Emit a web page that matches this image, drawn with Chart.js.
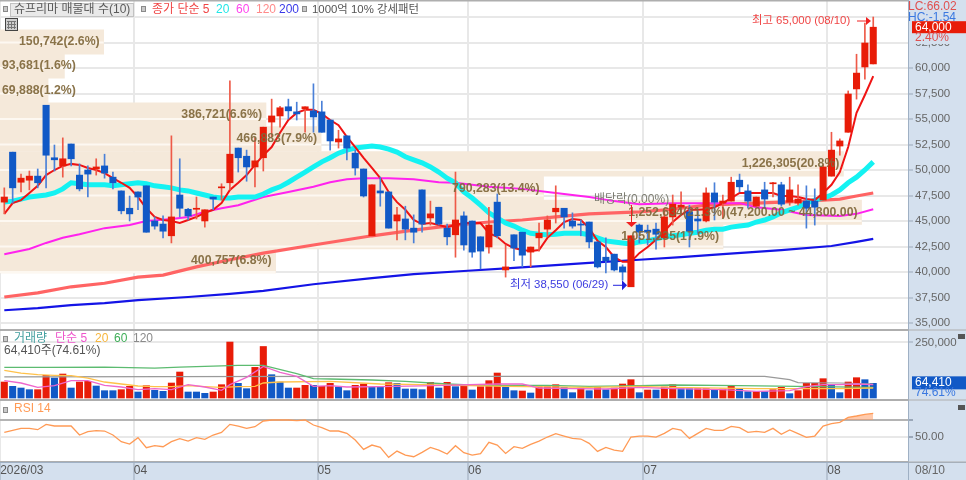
<!DOCTYPE html>
<html lang="ko"><head><meta charset="utf-8">
<style>html,body{margin:0;padding:0;background:#fff;overflow:hidden}canvas{display:block;filter:blur(.35px)}</style>
<script src="https://cdn.jsdelivr.net/npm/chart.js@4"></script>
</head><body><canvas id="c" width="966" height="480"></canvas>
<script>
const opens=[46850,51750,48800,49000,49400,56350,51200,50400,52550,49500,50000,50100,50400,49300,47950,46250,47850,48450,45000,44700,43550,47550,46150,46150,45000,47350,48250,48750,52150,51350,50300,51200,54700,55300,56200,55700,56000,55800,55700,54900,52750,53350,51650,50100,43550,47950,47850,45000,45200,44300,48050,45300,46350,44300,43650,45500,45000,43450,42450,46850,40200,43650,43900,41950,43350,44200,45900,46250,45000,44700,44900,42950,41450,41750,40500,38550,44600,44100,44200,43350,45400,46350,45900,45200,45000,47750,46750,46950,49000,47950,46450,48050,48650,48550,46850,46750,46950,46950,47050,49400,52350,53700,57950,60100,60400];
const closes=[47350,48250,49200,49400,48750,51450,51000,51100,51100,48150,49600,50300,49700,48750,46000,45700,47350,43900,44500,44000,45400,46250,45500,46250,46100,47150,48350,51550,51200,50300,50900,54200,55300,56100,55800,55500,56200,55200,53700,52850,53050,52150,50200,47450,48550,47750,44300,45600,44200,43900,44700,45700,44700,43450,45100,42650,41950,42050,44600,43550,40500,42350,41650,42450,43800,45100,46250,45400,44500,44600,42950,40500,41100,40200,40000,43550,43900,43900,43700,45400,46650,46550,44000,45000,47750,46850,46950,48800,48350,46950,47350,47150,48750,46650,48050,47150,46250,46350,50300,51950,52850,57450,59500,62450,64000];
const highs=[48250,51750,49600,49900,50100,56350,52450,53150,52550,50600,50400,51100,51550,49800,47950,47450,47850,48450,45400,45500,53350,51100,46250,47350,46100,47350,48650,58750,52150,51950,53150,54200,56950,56250,56950,56650,56200,58450,56750,54900,53900,53350,51950,50100,48550,49300,47850,46350,46450,45600,48050,46950,46350,44700,49800,45900,45000,43450,46350,47650,42650,43650,43900,42450,44800,45500,48450,46250,45800,45100,44900,42950,43350,41750,40700,43550,44700,44600,44800,46250,47550,47850,46550,46000,48250,48750,47550,49300,49600,48550,47350,48800,48800,48800,49300,48550,48450,48150,50500,53700,53050,57750,61350,64400,65000];
const lows=[45700,46750,47850,48050,48250,48250,49900,49300,50400,47950,47350,49500,49200,48150,45700,45000,46100,43900,44200,43350,42850,45400,45100,45200,44400,46100,47050,48050,49800,48900,48350,49900,53250,54200,55000,54900,53700,53700,53700,51950,52150,51000,49500,47350,43550,46450,44300,43150,43150,42850,43900,44600,44600,42650,41450,42150,41450,40300,41850,43350,39500,41100,40500,40500,42050,43450,44800,44300,44300,43550,42350,40400,39900,40100,39200,38550,42850,42650,42250,42450,44600,45800,42450,43800,44900,45100,45300,46950,47850,46250,46450,46250,47350,46450,46550,46550,44300,44600,47050,49400,51450,53700,56950,58900,60400];
const ma5=[45700,46750,47050,47750,48450,49500,50000,50400,50600,50500,50200,50000,49700,49200,48750,48250,47350,46250,45400,45100,45000,44800,45100,45400,45800,46100,46750,48050,48750,49500,50500,51450,52250,53650,54900,55600,55900,55900,55500,54900,54400,53250,52250,51200,50200,49200,47850,46850,46100,45100,44700,44800,44600,44400,44600,44800,44800,44800,43800,43450,42750,42350,42150,42050,42150,43350,44100,44900,45200,45100,44300,43050,42450,41450,41000,41000,41850,42450,43150,44000,44900,45600,46100,46100,46150,46350,46750,47250,47750,47750,47750,47750,47750,47450,47450,47350,47150,47050,47750,48550,49800,52250,55600,57350,59200];
const ma20=[46850,46950,47150,47350,47450,47550,47750,48150,48750,48650,48550,48550,48550,48450,48550,48650,48750,48650,48450,48350,48250,48050,47950,47750,47550,47350,47250,47250,47350,47350,47350,47650,48050,48350,48800,49300,49800,50300,50800,51200,51650,51950,52150,52250,52350,52250,52050,51750,51300,51000,50700,50300,49800,49200,48750,47850,47250,46550,45800,45300,44800,44500,44100,43800,43700,43650,43700,43800,43800,43800,43650,43350,43050,42950,42850,42750,42950,43050,43250,43450,43550,43650,43800,43900,44100,44200,44200,44400,44500,44600,44900,45100,45400,45800,46100,46350,46750,47050,47250,47550,48050,48750,49300,50000,50800];
const ma60=[[0,41750],[3,42250],[5,42850],[7,43350],[9,43700],[12,44300],[15,44600],[17,45000],[20,45200],[22,45400],[24,45900],[26,46250],[28,46550],[31,47350],[34,47850],[37,48350],[39,48800],[41,49100],[43,49200],[46,49200],[49,49100],[52,48800],[54,48750],[58,48350],[62,48150],[66,47750],[70,47350],[73,46950],[76,46650],[80,46750],[88,46750],[90,46350],[93,46100],[96,45600],[100,45500],[102,45700],[104,46150]];
const ma120=[[0,37550],[4,37950],[8,38550],[12,38900],[16,39500],[19,39700],[23,40500],[27,41200],[31,41850],[37,42650],[44,43550],[49,44100],[54,44600],[58,44900],[62,45100],[66,45400],[70,45700],[76,45900],[80,46150],[84,46550],[90,46750],[96,46950],[100,47150],[102,47450],[104,47750]];
const ma200=[[0,36250],[4,36450],[8,36750],[12,36950],[16,37250],[22,37550],[27,37850],[31,38150],[37,38800],[44,39400],[49,39800],[55,40100],[61,40400],[70,40900],[76,41200],[81,41450],[86,41750],[93,42150],[99,42550],[102,42950],[104,43250]];
const volumes=[72000,52500,45000,37500,37500,102000,90000,108000,45000,72000,75000,54000,33000,33000,37500,52500,27000,55500,34500,30000,67500,117000,27000,27000,21000,27000,60000,252000,66000,42000,138000,232000,105000,72000,45000,45000,57000,57000,52500,66000,49500,33000,57000,63000,48000,48000,69000,66000,40500,40500,37500,70500,45000,70500,51000,58500,36000,51000,78000,112500,52500,33000,31500,22500,51000,51000,60000,48000,24000,45000,33000,48000,37500,45000,63000,82500,24000,36000,36000,49500,60000,42000,42000,42000,42000,37500,40500,54000,39000,28500,28500,28500,37500,48000,19500,33000,66000,66000,87000,57000,24000,72000,91500,82500,66000];
const volumeDir="rbbbrrbrbrrbbbrrbrbbrrbbbrrrbbrrbbbrrbrrbbrrbbrbbbbrbrbrbrrrbbrbrrrbbrbrbrrrbrbrrbbrrbrrbbrbrrbrrrrbbrrbb".split("");
const volMa5=[[0,78000],[2,67500],[4,48000],[6,55500],[8,78000],[10,78000],[12,57000],[14,49500],[16,37500],[18,42000],[20,37500],[22,60000],[24,49500],[26,34500],[27,60000],[29,93000],[31,142500],[33,115500],[35,97500],[37,52500],[39,55500],[41,49500],[45,51000],[50,55000],[59,63000],[62,63000],[64,45000],[68,42000],[72,40500],[76,48000],[80,42000],[86,37500],[90,30000],[94,33000],[96,51000],[98,60000],[100,60000],[102,63000],[104,60000]];
const volMa20=[[0,124500],[2,112500],[4,105000],[6,102000],[8,100500],[10,90000],[12,72000],[14,63000],[16,54000],[18,51000],[20,51000],[22,55500],[24,51000],[26,48000],[28,51000],[30,52500],[31,67500],[33,72000],[39,75000],[45,63000],[50,60000],[60,52500],[70,48000],[76,52500],[80,48000],[90,42000],[100,42000],[104,45000]];
const volMa60=[[0,138000],[5,138000],[12,139500],[18,135000],[21,139500],[28,147000],[31,147000],[35,109500],[37,87000],[39,85500],[44,81000],[48,75000],[53,63000],[57,57000],[65,57000],[70,52500],[76,55500],[80,58500],[88,55500],[104,48000]];
const volMa120=[[0,95000],[40,97000],[91,97500],[94,82500],[95,69000],[100,67500],[104,63000]];
const rsi=[55.2,57.6,60,60,58.4,64.8,62.8,62.8,62.8,52,56,57.2,56.8,52,44,41.2,48.8,36.8,39.2,38,44,47.6,44.8,48.8,46.8,52,55.2,64.8,62.8,60,62,68.8,70,70,70,69.2,70,64,60.8,56.8,56.8,54,46,34.8,40,37.2,25.3,32.8,28,26,31.2,37.2,34,29.3,39.2,30.8,28,29.6,43.2,40,30,38,36,40.8,44.8,49.6,53.6,50.8,48,47.2,42,32.4,37.2,34,32.4,49.6,50.8,50.8,49.6,54,60,58,48,54,60,57.6,57.6,62.4,60.8,55.2,56.4,55.2,60,52.8,58,53.6,49.2,50.8,62.8,65.6,67.2,73.2,74.8,76.7,77.9];
const bandPrices=[62550,60200,57800,55400,53050,50600,48200,45850,43450,41100];
const bandVolumes=[150742,93681,69888,386721,466883,1226305,790283,1252634,1051235,400757];
const bandLabels=["150,742(2.6%)","93,681(1.6%)","69,888(1.2%)","386,721(6.6%)","466,883(7.9%)","1,226,305(20.8%)","790,283(13.4%)","1,252,634(21.3%)(47,200.00 ~ 44,800.00)","1,051,235(17.9%)","400,757(6.8%)"];
const monthTicks=[-0.5,15.5,37.5,55.5,76.5,98.5];
const monthLabels=["2026/03","04","05","06","07","08"];

const RED="#e81c08",BLUE="#1159c6",AXISBG="#d4e0ee",BAND="#f5e9da",GRID="#e8e8e8",LINE="#aeaeae";
const FONT='"Liberation Sans","Noto Sans CJK KR",sans-serif';
const idx=closes.map((_,i)=>i);
const isUp=i=>closes[i]>=opens[i];
const pairs=a=>a.map(([x,y])=>({x,y}));
const perBar=a=>a.map((y,x)=>({x,y}));
const line=(data,color,width,order,yAxisID,extra)=>Object.assign({type:"line",data,borderColor:color,borderWidth:width,pointRadius:0,tension:0,order,yAxisID,xAxisID:"x",fill:false},extra||{});

const datasets=[
 {type:"bar",indexAxis:"y",xAxisID:"xVol",yAxisID:"y",order:100,grouped:false,barThickness:24.4,backgroundColor:BAND,
  data:bandPrices.map((p,i)=>({x:bandVolumes[i],y:p}))},
 line(pairs(ma200),"#1414e6",2.2,90,"y"),
 line(pairs(ma120),"#ff6464",3.2,89,"y"),
 line(pairs(ma60),"#ff22ee",2,88,"y"),
 line(perBar(ma20),"#14f2f2",5,87,"y"),
 line(perBar(ma5),"#f01414",2,86,"y"),
 {type:"bar",xAxisID:"x",yAxisID:"y",order:80,grouped:false,barThickness:1,
  backgroundColor:idx.map(i=>isUp(i)?"#ee5a48":"#4a80d8"),data:idx.map(i=>({x:i,y:[lows[i],highs[i]]}))},
 {type:"bar",xAxisID:"x",yAxisID:"y",order:79,grouped:false,barThickness:6.4,
  backgroundColor:idx.map(i=>isUp(i)?RED:BLUE),data:idx.map(i=>({x:i,y:[opens[i],closes[i]]}))},
 {type:"bar",xAxisID:"x",yAxisID:"yVol",order:60,grouped:false,barThickness:6.4,
  backgroundColor:volumeDir.map(d=>d==="r"?RED:BLUE),data:perBar(volumes)},
 line(pairs(volMa120),"#9a9a9a",1.2,59,"yVol"),
 line(pairs(volMa60),"#5cbb70",1.3,58,"yVol"),
 line(pairs(volMa20),"#ffc14a",1.3,57,"yVol"),
 line(pairs(volMa5),"#ee66cc",1.3,56,"yVol"),
 line(perBar(rsi),"#ff9a55",1.3,40,"yRsi",{fill:{target:{value:70},above:"rgba(255,150,90,0.5)",below:"rgba(0,0,0,0)"}})
];
const BAND_INDEX=0;

function txt(c,s,x,y,color,font,align){c.font=font||"12px "+FONT;c.fillStyle=color;c.textAlign=align||"left";c.textBaseline="middle";c.fillText(s,x,y)}
function bullet(c,x,y){c.fillStyle="#c9c9c9";c.fillRect(x,y,5,6);c.strokeStyle="#8a8a8a";c.lineWidth=1;c.strokeRect(x+.5,y+.5,4,5)}
const F115="11.4px "+FONT;

const panels={
 id:"panels",
 beforeDraw(ch){
  const c=ch.ctx,a=ch.chartArea;
  c.save();
  c.fillStyle="#fff";c.fillRect(0,0,ch.width,ch.height);
  c.fillStyle=AXISBG;c.fillRect(a.right,0,ch.width-a.right,ch.height);c.fillRect(0,a.bottom,ch.width,ch.height-a.bottom);
  c.restore();
 },
 afterDatasetDraw(ch,args){
  if(args.index!==BAND_INDEX)return;
  const c=ch.ctx,y=ch.scales.y,xv=ch.scales.xVol;
  c.save();
  // horizontal grid shows lightly through the bands
  const half=(y.getPixelForValue(bandPrices[1])-y.getPixelForValue(bandPrices[0]))/2;
  c.strokeStyle="#fdf8f1";c.lineWidth=2;
  y.ticks.forEach(t=>{const py=y.getPixelForValue(t.value);
   bandPrices.forEach((p,i)=>{const m=y.getPixelForValue(p);
    if(py>=m-half&&py<m+half){c.beginPath();c.moveTo(0,py);c.lineTo(xv.getPixelForValue(bandVolumes[i]),py);c.stroke();}});});
  c.restore();
 },
 afterDraw(ch){
  const c=ch.ctx,a=ch.chartArea,S=ch.scales;
  c.save();
  // band labels lie over everything in the price pane
  bandLabels.forEach((s,i)=>{
   const f="bold 12.3px "+FONT;c.font=f;
   const w=c.measureText(s).width;
   const right=S.xVol.getPixelForValue(bandVolumes[i])-4;
   txt(c,s,Math.max(2,right-w),S.y.getPixelForValue(bandPrices[i]),"rgba(128,104,60,0.92)",f);
  });
  // panel rules
  c.strokeStyle=LINE;c.lineWidth=2;
  [a.top+.5,S.yVol.top,S.yRsi.top,a.bottom].forEach(v=>{c.beginPath();c.moveTo(0,v);c.lineTo(a.right,v);c.stroke()});
  c.strokeStyle="#9fb0c4";c.lineWidth=1;
  c.beginPath();c.moveTo(a.right+.5,0);c.lineTo(a.right+.5,ch.height);c.stroke();
  c.beginPath();c.moveTo(0,a.bottom+.5);c.lineTo(ch.width,a.bottom+.5);c.stroke();
  [S.yVol.top,S.yRsi.top,a.bottom].forEach(v=>{c.strokeStyle=LINE;c.lineWidth=1;c.beginPath();c.moveTo(a.right,v);c.lineTo(ch.width,v);c.stroke()});

  // header
  bullet(c,3,6);
  c.fillStyle="#e9e9e9";c.fillRect(10,3,123,13);c.strokeStyle="#c2c2c2";c.strokeRect(10.5,3.5,123,13);
  txt(c,"슈프리마 매물대 수(10)",14,9.5,"#5a5a5a");
  bullet(c,141,6);
  txt(c,"종가 단순 5",152,9.5,"#f04545");
  txt(c,"20",216,9.5,"#22e6e6");
  txt(c,"60",236,9.5,"#ff44ee");
  txt(c,"120",256,9.5,"#ff8a8a");
  txt(c,"200",279,9.5,"#3a3ae8");
  bullet(c,302,6);
  txt(c,"1000억 10% 강세패턴",312,9.5,"#555",F115);
  // table icon
  c.fillStyle="#cfcfcf";c.fillRect(5,18,13,13);c.strokeStyle="#444";c.lineWidth=1;c.strokeRect(5.5,18.5,12,12);
  c.strokeStyle="#777";c.beginPath();[8.5,11.5,14.5].forEach(x=>{c.moveTo(x,21);c.lineTo(x,29)});[21.5,24.5,27.5].forEach(y=>{c.moveTo(7,y);c.lineTo(16,y)});c.stroke();

  // volume legend
  bullet(c,3,336);
  txt(c,"거래량",14,338.5,"#44a0a0");
  txt(c,"단순 5",55,338.5,"#ee55cc");
  txt(c,"20",95,338.5,"#f7b63c");
  txt(c,"60",114,338.5,"#3fae58");
  txt(c,"120",133,338.5,"#8a8a8a");
  txt(c,"64,410주(74.61%)",4,350.5,"#555");
  // RSI legend
  bullet(c,3,407);
  txt(c,"RSI 14",14,408.5,"#ff9a55");

  // extremes and event marks
  const xs=S.x,ys=S.y;
  const hiY=ys.getPixelForValue(65000)+3.5,loY=ys.getPixelForValue(38550)-2;
  txt(c,"최고 65,000 (08/10)",752,hiY,"#f04545",F115);
  c.strokeStyle=c.fillStyle="#f02020";c.lineWidth=1;
  c.beginPath();c.moveTo(857,hiY+.5);c.lineTo(866,hiY+.5);c.stroke();
  c.beginPath();c.moveTo(866,hiY-3.5);c.lineTo(871,hiY+.5);c.lineTo(866,hiY+4.5);c.fill();
  txt(c,"최저 38,550 (06/29)",510,loY,"#3c3ce0",F115);
  c.strokeStyle=c.fillStyle="#2222dd";
  c.beginPath();c.moveTo(613,loY+.5);c.lineTo(622,loY+.5);c.stroke();
  c.beginPath();c.moveTo(622,loY-4.5);c.lineTo(627,loY+.5);c.lineTo(622,loY+5.5);c.fill();
  const dx=Math.round(xs.getPixelForValue(75));
  txt(c,"배당락(0.00%)",594,200,"#7d7d72");
  c.strokeStyle=c.fillStyle="#f02020";
  c.beginPath();c.moveTo(dx+.5,205);c.lineTo(dx+.5,222);c.stroke();
  c.beginPath();c.moveTo(dx-5,222);c.lineTo(dx+6,222);c.lineTo(dx+.5,227);c.fill();

  // right axis overlays
  c.fillStyle=AXISBG;c.fillRect(a.right+1,0,ch.width-a.right-1,21);c.fillRect(a.right+1,33,ch.width-a.right-1,11);
  txt(c,"LC:66.02",908,7,"#e05050");
  txt(c,"HC:-1.54",908,18,"#3a78e0");
  const pc=ys.getPixelForValue(closes[closes.length-1]);
  c.fillStyle=RED;c.fillRect(912,pc-6,54,12);
  txt(c,"64,000",915,pc,"#fff");
  txt(c,"2.40%",915,38,"#e05050");
  const vc=S.yVol.getPixelForValue(volumes[volumes.length-1]);
  c.fillStyle=BLUE;c.fillRect(912,vc-7,54,13);
  txt(c,"64,410",915,vc-.5,"#fff");
  txt(c,"74.61%",915,vc+9,"#3a78e0");
  txt(c,"08/10",915,471,"#666");
  c.fillStyle="#555";c.fillRect(958,334,7,5);c.fillRect(958,405,7,5);
  c.restore();
 }
};

const noPad=s=>{s.paddingTop=0;s.paddingBottom=0;s.paddingLeft=0;s.paddingRight=0};
const yBase=(extra)=>Object.assign({type:"linear",position:"right",stack:"panes",offset:false,border:{display:false},
  afterFit(s){s.width=58;noPad(s)},
  grid:{offset:false,color:GRID,lineWidth:2,tickLength:5,tickColor:"#9aa7b8",tickWidth:1}},extra);
const yTicks=cb=>({color:"#666",font:{size:11.5,family:FONT},padding:2,autoSkip:false,maxRotation:0,callback:cb});
const fmt=v=>v.toLocaleString("en-US");

new Chart(document.getElementById("c"),{
 type:"bar",
 data:{datasets},
 plugins:[panels],
 options:{
  responsive:false,maintainAspectRatio:false,animation:false,
  devicePixelRatio:1,
  layout:{padding:0,autoPadding:false},
  plugins:{legend:{display:false},tooltip:{enabled:false},title:{display:false}},
  scales:{
   x:{type:"linear",offset:false,position:"bottom",min:-0.515,max:108.16,border:{display:false},
    afterBuildTicks(s){s.ticks=monthTicks.map(value=>({value}))},
    afterFit(s){s.height=18;noPad(s)},
    ticks:{align:"start",autoSkip:false,maxRotation:0,padding:-17,color:"#555",font:{size:12,family:FONT},
      callback:v=>monthLabels[monthTicks.indexOf(v)]},
    grid:{offset:false,color:GRID,lineWidth:2,tickLength:18,tickColor:"#9aa7b8",tickWidth:1}},
   xVol:{type:"linear",display:false,position:"bottom",min:0,max:1320151,offset:false,grid:{offset:false}},
   y:yBase({weight:1,stackWeight:330,min:34314,max:66667,
    afterBuildTicks(s){const t=[];for(let v=35000;v<=65000;v+=2500)t.push({value:v});s.ticks=t},
    ticks:yTicks(fmt)}),
   yVol:yBase({weight:2,stackWeight:70,min:-9008,max:306272,
    afterBuildTicks(s){s.ticks=[{value:250000}]},
    ticks:yTicks(fmt)}),
   yRsi:yBase({weight:3,stackWeight:62,min:19.7,max:93.95,
    afterBuildTicks(s){s.ticks=[{value:50},{value:70}]},
    ticks:yTicks(v=>v===50?"50.00":""),
    grid:{offset:false,color:c=>c.tick&&c.tick.value===70?"#b4b4b4":GRID,lineWidth:2,tickLength:5,tickColor:"#9aa7b8"}})
  }
 }
});
</script></body></html>
